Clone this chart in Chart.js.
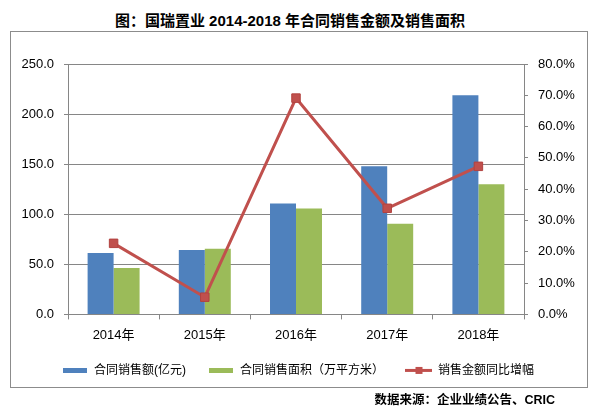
<!DOCTYPE html>
<html>
<head>
<meta charset="utf-8">
<script src="https://cdn.jsdelivr.net/npm/chart.js@4/dist/chart.umd.min.js"></script>
<style>
  body { margin: 0; background: #fff; }
  #wrap { position: relative; width: 596px; height: 406px; overflow: hidden; }
  #title {
    position: absolute; left: 0; top: 9px; width: 580px; line-height: 20px;
    text-align: center; font: bold 15px "Liberation Sans", "Noto Sans CJK SC", sans-serif; color: #000;
  }
  #frame {
    position: absolute; left: 10px; top: 31px; width: 576px; height: 355px;
    border: 1px solid #8c8c8c;
  }
  #source {
    position: absolute; right: 41px; top: 389px; line-height: 16px;
    font: bold 12.5px "Liberation Sans", "Noto Sans CJK SC", sans-serif; color: #000;
  }
  canvas { position: absolute; left: 0; top: 0; }
</style>
</head>
<body>
<div id="wrap">
  <div id="title">图：国瑞置业 2014-2018 年合同销售金额及销售面积</div>
  <div id="frame"></div>
  <canvas id="chart" width="596" height="406"></canvas>
  <div id="source">数据来源：企业业绩公告、CRIC</div>
</div>
<script>
// 数据
const years = ['2014年', '2015年', '2016年', '2017年', '2018年'];
const salesAmount = [61.4, 64.4, 110.8, 148, 218.7];   // 合同销售额(亿元)
const salesArea = [46.3, 65.5, 105.7, 90.6, 130];       // 合同销售面积（万平方米）
const growthRate = [22.7, 5.5, 69.1, 33.9, 47.3];       // 销售金额同比增幅 (%)
const seriesNames = ['合同销售额(亿元)', '合同销售面积（万平方米）', '销售金额同比增幅'];

const blue = '#4F81BD';
const green = '#9BBB59';
const red = '#C0504D';
const gridColor = '#868686';
const tickFont = { family: '"Liberation Sans", "Noto Sans CJK SC", sans-serif', size: 13 };

// 图例标记
function makeMarker(w, h, draw) {
  const c = document.createElement('canvas');
  c.width = w;
  c.height = h;
  draw(c.getContext('2d'));
  return c;
}
const blueMark = makeMarker(24, 5, (g) => { g.fillStyle = blue; g.fillRect(0, 0, 24, 5); });
const greenMark = makeMarker(24, 5, (g) => { g.fillStyle = green; g.fillRect(0, 0, 24, 5); });
const lineMark = makeMarker(27, 9, (g) => {
  g.fillStyle = red;
  g.fillRect(0, 3, 27, 3);
  g.fillRect(10, 1, 7, 7);
});
const markers = [blueMark, greenMark, lineMark];

const ctx = document.getElementById('chart').getContext('2d');
new Chart(ctx, {
  type: 'bar',
  data: {
    labels: years,
    datasets: [
      {
        label: seriesNames[0],
        data: salesAmount,
        backgroundColor: blue,
        yAxisID: 'y',
        order: 1,
        categoryPercentage: 0.57,
        barPercentage: 1.0,
      },
      {
        label: seriesNames[1],
        data: salesArea,
        backgroundColor: green,
        yAxisID: 'y',
        order: 2,
        categoryPercentage: 0.57,
        barPercentage: 1.0,
      },
      {
        type: 'line',
        label: seriesNames[2],
        data: growthRate,
        borderColor: red,
        backgroundColor: red,
        borderWidth: 3,
        pointStyle: 'rect',
        pointRadius: 6,
        pointBorderColor: '#B2423F',
        pointBorderWidth: 1,
        yAxisID: 'y1',
        order: 0,
        tension: 0,
      },
    ],
  },
  options: {
    responsive: false,
    animation: false,
    layout: { padding: { top: 64, bottom: 19.6, left: 0, right: 0 } },
    plugins: {
      tooltip: { enabled: false },
      title: { display: false },
      legend: {
        position: 'bottom',
        labels: {
          font: { family: '"Liberation Sans", "Noto Sans CJK SC", sans-serif', size: 12 },
          color: '#000',
          padding: 22,
          usePointStyle: true,
          pointStyleWidth: 26,
          generateLabels: () => seriesNames.map((name, i) => ({
            text: name,
            pointStyle: markers[i],
            fillStyle: 'transparent',
            strokeStyle: 'transparent',
            lineWidth: 0,
            hidden: false,
            datasetIndex: i,
          })),
        },
      },
    },
    scales: {
      x: {
        offset: true,
        grid: { drawOnChartArea: false, drawTicks: true, tickLength: 5, color: gridColor },
        border: { display: true, color: gridColor },
        ticks: { font: tickFont, color: '#000', padding: 8, maxRotation: 0 },
        afterFit: (scale) => { scale.height = 28; },
      },
      y: {
        position: 'left',
        min: 0,
        max: 250,
        ticks: {
          stepSize: 50,
          font: tickFont,
          color: '#000',
          padding: 10,
          callback: (v) => v.toFixed(1),
        },
        grid: { color: gridColor, tickLength: 4 },
        border: { display: true, color: gridColor },
        afterFit: (scale) => { scale.width = 68; },
      },
      y1: {
        position: 'right',
        min: 0,
        max: 80,
        ticks: {
          stepSize: 10,
          font: tickFont,
          color: '#000',
          padding: 10,
          callback: (v) => v.toFixed(1) + '%',
        },
        grid: { drawOnChartArea: false, color: gridColor, tickLength: 4 },
        border: { display: true, color: gridColor },
        afterFit: (scale) => { scale.width = 72; },
      },
    },
  },
});
</script>
</body>
</html>
